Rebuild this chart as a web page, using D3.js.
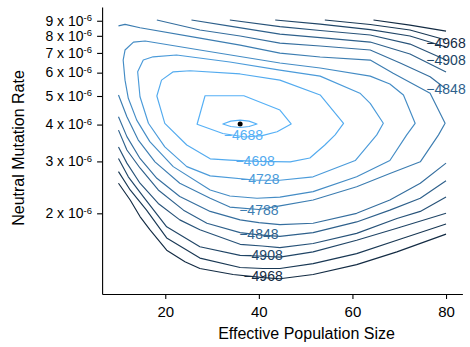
<!DOCTYPE html>
<html>
<head>
<meta charset="utf-8">
<script src="https://cdn.jsdelivr.net/npm/d3@7"></script>
<style>
  body { margin: 0; background: #fff; }
  svg { display: block; }
  text { font-family: "Liberation Sans", Arial, Helvetica, sans-serif; }
</style>
</head>
<body>
<svg id="chart" width="470" height="347"></svg>
<script>
// Log-likelihood contours over effective population size (N) and
// neutral mutation rate (mu, stored in units of 1e-6).
// Each contour piece is a list of [N, mu] vertices.

const lens  = [[32.3,4.02],[34.0,4.11],[36.0,4.14],[37.9,4.11],[39.6,4.02],[37.9,3.94],[36.0,3.91],[34.0,3.94]];
const c4688 = [[28.5,5.01],[36.8,5.01],[44.5,4.48],[46.9,4.02],[43.9,3.78],[40.7,3.67],[37.0,3.63],[32.3,3.73],[26.8,4.01]];
const c4698 = [[18.2,5.00],[19.2,5.66],[21.7,6.04],[25.3,6.09],[36.0,5.94],[44.5,5.66],[53.1,5.04],[58.1,4.04],[56.3,3.69],[54.1,3.41],[50.9,3.08],[46.7,2.99],[39.6,3.00],[33.8,3.03],[29.6,3.06],[24.6,3.41],[19.9,4.04]];
const c4728 = [[14.1,6.04],[15.3,6.62],[17.4,6.79],[22.4,6.89],[33.8,6.52],[44.5,6.12],[53.1,5.84],[61.6,5.11],[63.8,4.72],[66.6,4.04],[65.2,3.69],[60.6,3.02],[51.6,2.66],[44.5,2.59],[39.6,2.59],[29.6,2.68],[24.6,2.88],[19.9,3.36],[16.4,4.04],[14.6,4.97]];
const c4758 = [[11.0,6.62],[11.4,7.16],[13.2,7.62],[15.7,7.68],[27.4,7.16],[44.5,6.47],[53.1,6.22],[63.8,5.84],[68.0,5.49],[70.9,5.04],[73.4,4.04],[71.6,3.69],[68.0,3.02],[60.9,2.66],[51.6,2.37],[44.5,2.27],[39.6,2.25],[33.8,2.29],[29.6,2.40],[21.7,2.88],[16.7,3.50],[13.9,4.14],[12.1,4.91],[11.4,5.66]];
const c4788 = [[10,8.65],[11.4,8.75],[14.6,8.52],[27.4,7.86],[36.0,7.44],[44.5,6.99],[53.1,6.78],[63.8,6.62],[68.7,5.97],[76.6,5.11],[79.8,4.04],[78.4,3.69],[74.5,2.99],[68.0,2.73],[60.9,2.46],[51.6,2.22],[44.5,2.12],[40.0,2.06],[33.8,2.10],[29.6,2.25],[23.1,2.53],[17.8,2.99],[14.2,3.55],[11.8,4.25],[10,5.04]];
const c4818top = [[18.2,9.05],[27.4,8.37],[36.0,7.99],[44.5,7.56],[53.1,7.39],[63.8,7.16],[70.2,6.47],[76.6,5.81],[80,5.28]];
const c4818low = [[10,4.25],[11.8,3.64],[14.6,3.07],[18.2,2.63],[23.1,2.28],[29.6,2.03],[36.0,1.90],[40.0,1.86],[44.5,1.83],[51.6,1.85],[60.9,2.00],[68.0,2.22],[74.5,2.53],[80,2.96]];
const c4848top = [[25.6,9.05],[33.8,8.63],[44.5,8.11],[53.1,7.89],[63.8,7.62],[72.3,6.94],[80,6.03]];
const c4848low = [[10,3.83],[11.8,3.28],[14.6,2.85],[18.5,2.40],[23.9,2.05],[28.9,1.85],[36.0,1.72],[40.0,1.69],[44.5,1.67],[51.6,1.72],[60.9,1.87],[68.0,2.05],[74.5,2.25],[80,2.58]];
const c4878top = [[33.8,9.05],[44.5,8.60],[53.1,8.34],[63.8,8.05],[72.3,7.50],[80,6.62]];
const c4878low = [[10,3.36],[11.8,2.96],[14.6,2.53],[18.5,2.16],[23.1,1.90],[27.4,1.76],[36.0,1.57],[40.7,1.55],[44.5,1.53],[51.6,1.58],[60.9,1.71],[69.5,1.92],[74.5,2.03],[80,2.27]];
const c4908top = [[43.5,9.05],[53.1,8.77],[63.8,8.40],[72.3,7.99],[80,7.33]];
const c4908low = [[10,3.07],[12.1,2.66],[15.3,2.28],[20.3,1.80],[27.4,1.54],[36.0,1.44],[40.9,1.43],[44.5,1.42],[51.6,1.48],[60.9,1.62],[69.5,1.78],[80,2.00]];
const c4938top = [[54.1,9.05],[63.8,8.74],[72.3,8.37],[80,7.74]];
const c4938low = [[10,2.77],[12.5,2.40],[16.0,2.05],[20.3,1.65],[27.4,1.41],[36.0,1.31],[40.9,1.30],[44.5,1.30],[51.6,1.35],[60.9,1.46],[69.5,1.62],[80,1.84]];
const c4968top = [[64.5,9.05],[72.3,8.70],[80,8.30]];
const c4968low = [[10,2.53],[12.5,2.22],[14.6,1.95],[16.7,1.76],[20.3,1.50],[24.2,1.37],[27.4,1.30],[34.5,1.24],[40.9,1.21],[44.5,1.20],[51.6,1.24],[60.9,1.34],[69.5,1.48],[80,1.70]];

// contour level of each piece and whether it closes on itself
const pieceLevels = [-4686, -4688, -4698, -4728, -4758, -4788, -4818, -4818, -4848, -4848, -4878, -4878, -4908, -4908, -4938, -4938, -4968, -4968];
const pieceClosed = [true, true, true, true, true, false, false, false, false, false, false, false, false, false, false, false, false, false];
const pieces = [lens, c4688, c4698, c4728, c4758, c4788, c4818top, c4818low, c4848top, c4848low,
                c4878top, c4878low, c4908top, c4908low, c4938top, c4938low, c4968top, c4968low];

// contour labels: level and anchor point
const labelLevels = [-4688, -4698, -4728, -4788, -4848, -4908, -4968, -4968, -4908, -4848];
const labelN      = [36.7, 39.2, 40.2, 40.0, 40.0, 40.9, 40.9, 80, 80, 80];
const labelMu     = [3.69, 3.02, 2.61, 2.06, 1.70, 1.44, 1.23, 7.56, 6.62, 5.28];

// maximum-likelihood estimate
const mleN = [36.0];
const mleMu = [4.02];

// axis ticks
const xTicks = [20, 40, 60, 80];
const yTicks = [2, 3, 4, 5, 6, 7, 8, 9];

const svg = d3.select("#chart");

const x = d3.scaleLinear().domain([6.5, 83.5]).range([102.1, 462.4]);
const y = d3.scaleLog().domain([1.065, 10.02]).range([294, 7]);

const color = d3.scaleLinear()
  .domain([-4968, -4686])
  .range(["#132B43", "#56B1F7"])
  .interpolate(d3.interpolateLab);

const lineOpen = d3.line().x(d => x(d[0])).y(d => y(d[1])).curve(d3.curveLinear);
const lineClosed = d3.line().x(d => x(d[0])).y(d => y(d[1])).curve(d3.curveLinearClosed);

// contour lines, lowest level drawn first
const order = d3.range(pieces.length).sort((a, b) => pieceLevels[a] - pieceLevels[b]);
svg.append("g")
  .selectAll("path")
  .data(order)
  .join("path")
  .attr("d", i => (pieceClosed[i] ? lineClosed : lineOpen)(pieces[i]))
  .attr("fill", "none")
  .attr("stroke", i => color(pieceLevels[i]))
  .attr("stroke-width", 1.15)
  .attr("stroke-linejoin", "round");

// contour labels
const fmt = d3.format("d");
svg.append("g")
  .selectAll("text")
  .data(labelLevels.map((lv, i) => ({ lv, n: labelN[i], mu: labelMu[i] })))
  .join("text")
  .attr("x", d => x(d.n))
  .attr("y", d => y(d.mu))
  .attr("dy", "0.36em")
  .attr("text-anchor", "middle")
  .attr("font-size", 14)
  .attr("fill", d => color(d.lv))
  .text(d => fmt(d.lv));

// MLE point
svg.append("g")
  .selectAll("circle")
  .data(mleN.map((n, i) => [n, mleMu[i]]))
  .join("circle")
  .attr("cx", d => x(d[0]))
  .attr("cy", d => y(d[1]))
  .attr("r", 2.5)
  .attr("fill", "#000");

// x axis
const xAxis = svg.append("g")
  .attr("transform", "translate(0,294)")
  .call(d3.axisBottom(x).tickValues(xTicks).tickSize(5).tickSizeOuter(0).tickPadding(7));
xAxis.select(".domain").attr("stroke", "#000").attr("stroke-width", 1.1);
xAxis.selectAll(".tick line").attr("stroke", "#000").attr("stroke-width", 1.1);
xAxis.selectAll(".tick text")
  .attr("font-size", 15)
  .attr("font-family", "Liberation Sans, Arial, sans-serif")
  .attr("fill", "#000");

// y axis (labels written as "k x 10^-6")
const yAxis = svg.append("g")
  .attr("transform", "translate(102.1,0)")
  .call(d3.axisLeft(y).tickValues(yTicks).tickSize(5).tickSizeOuter(0).tickFormat(""));
yAxis.select(".domain").attr("stroke", "#000").attr("stroke-width", 1.1);
yAxis.selectAll(".tick line").attr("stroke", "#000").attr("stroke-width", 1.1);

const yLab = svg.append("g")
  .selectAll("text")
  .data(yTicks)
  .join("text")
  .attr("x", 92)
  .attr("y", d => y(d) + 4.8)
  .attr("text-anchor", "end")
  .attr("font-size", 14)
  .attr("fill", "#000");
yLab.append("tspan").text(d => d + " x 10");
yLab.append("tspan").attr("font-size", 9.5).attr("dy", -4.6).text("-6");

// axis titles
svg.append("text")
  .attr("x", 306.5)
  .attr("y", 339)
  .attr("text-anchor", "middle")
  .attr("font-size", 16)
  .attr("fill", "#000")
  .text("Effective Population Size");

svg.append("text")
  .attr("transform", "translate(24,148) rotate(-90)")
  .attr("text-anchor", "middle")
  .attr("font-size", 16)
  .attr("fill", "#000")
  .text("Neutral Mutation Rate");
</script>
</body>
</html>
